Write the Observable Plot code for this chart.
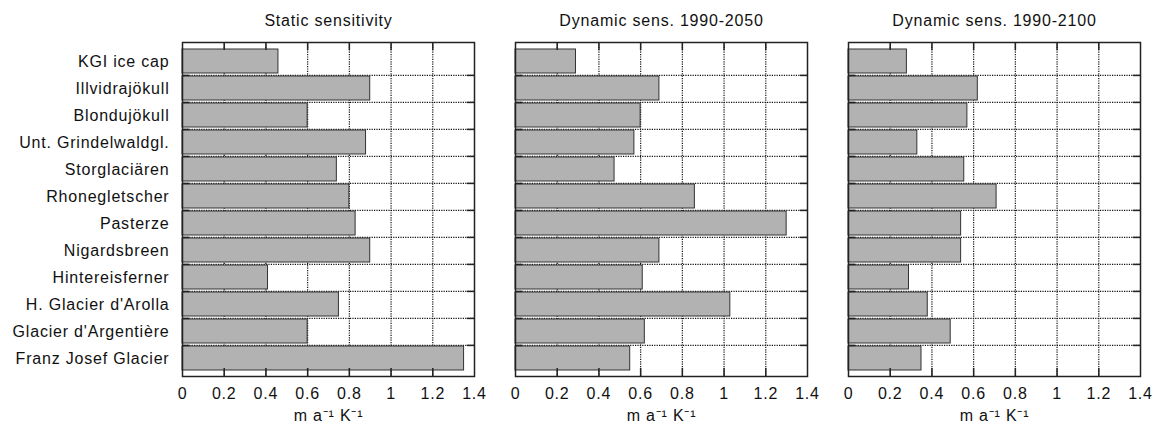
<!DOCTYPE html>
<html><head><meta charset="utf-8">
<script src="https://cdn.jsdelivr.net/npm/d3@7"></script>
<script src="https://cdn.jsdelivr.net/npm/@observablehq/plot@0.6"></script>
<style>body{margin:0;background:#fff} #chart{position:absolute;left:0;top:0}</style>
</head><body><div id="chart"></div>
<script>
const glaciers = ["KGI ice cap", "Illvidrajökull", "Blondujökull", "Unt. Grindelwaldgl.", "Storglaciären", "Rhonegletscher", "Pasterze", "Nigardsbreen", "Hintereisferner", "H. Glacier d'Arolla", "Glacier d'Argentière", "Franz Josef Glacier"];
const panels = ["Static sensitivity", "Dynamic sens. 1990-2050", "Dynamic sens. 1990-2100"];
const staticSens = [0.46, 0.90, 0.60, 0.88, 0.74, 0.80, 0.83, 0.90, 0.41, 0.75, 0.60, 1.35];
const dyn2050 = [0.29, 0.69, 0.60, 0.57, 0.475, 0.86, 1.30, 0.69, 0.61, 1.03, 0.62, 0.55];
const dyn2100 = [0.28, 0.62, 0.57, 0.33, 0.555, 0.71, 0.54, 0.54, 0.29, 0.38, 0.49, 0.35];
const xTicks = [0, 0.2, 0.4, 0.6, 0.8, 1, 1.2, 1.4];
const unitLabel = "m a\u207B\u00B9 K\u207B\u00B9";

const series = [staticSens, dyn2050, dyn2100];
const data = [];
panels.forEach((p, j) => glaciers.forEach((g, i) => data.push({panel: p, name: g, value: series[j][i]})));

const W = 1159, H = 434, mt = 42, mb = 58, ml = 181, mr = 18;
const innerH = H - mt - mb;
const step = innerH / glaciers.length;
const pIn = 0.122;
const bw = (W - ml - mr) * (1 - pIn) / (3 - pIn);
const gridTicks = xTicks.slice(1, -1);
const boundaries = glaciers.slice(0, -1);
const dotted = {stroke: "#111", strokeWidth: 1.2, strokeDasharray: "1.2,1.2"};

const chart = Plot.plot({
  width: W, height: H,
  marginTop: mt, marginBottom: mb, marginLeft: ml, marginRight: mr,
  style: {fontFamily: "'Liberation Sans', Arial, sans-serif", fontSize: "16px", letterSpacing: "0.8px", color: "#111", background: "#fff"},
  fx: {domain: panels, paddingInner: pIn, paddingOuter: 0, label: null, axis: "top", tickSize: 0, tickPadding: 17},
  x: {domain: [0, 1.4], ticks: xTicks, tickFormat: d3.format("~g"), tickSize: 0, tickPadding: 11, label: null},
  y: {domain: glaciers, paddingInner: 0.12, paddingOuter: 0.06, tickSize: 0, tickPadding: 13, label: null},
  marks: [
    Plot.ruleX(gridTicks, dotted),
    Plot.ruleY(boundaries, {y: d => d, dy: step / 2, ...dotted}),
    Plot.barX(data, {fx: "panel", y: "name", x: "value", fill: "#b2b2b2", stroke: "#333", strokeWidth: 1}),
    Plot.ruleY(boundaries, {y: d => d, dy: step / 2, insetRight: bw - 8, stroke: "#222", strokeWidth: 1.5}),
    Plot.ruleY(boundaries, {y: d => d, dy: step / 2, insetLeft: bw - 8, stroke: "#222", strokeWidth: 1.5}),
    Plot.ruleX(gridTicks, {insetBottom: innerH - 8, stroke: "#222", strokeWidth: 1.5}),
    Plot.ruleX(gridTicks, {insetTop: innerH - 8, stroke: "#222", strokeWidth: 1.5}),
    Plot.frame({stroke: "#222", strokeWidth: 1.5}),
    Plot.text(panels, {fx: d => d, text: () => unitLabel, frameAnchor: "bottom", dy: 44, fontSize: 16})
  ]
});
document.getElementById("chart").appendChild(chart);
</script>
</body></html>
